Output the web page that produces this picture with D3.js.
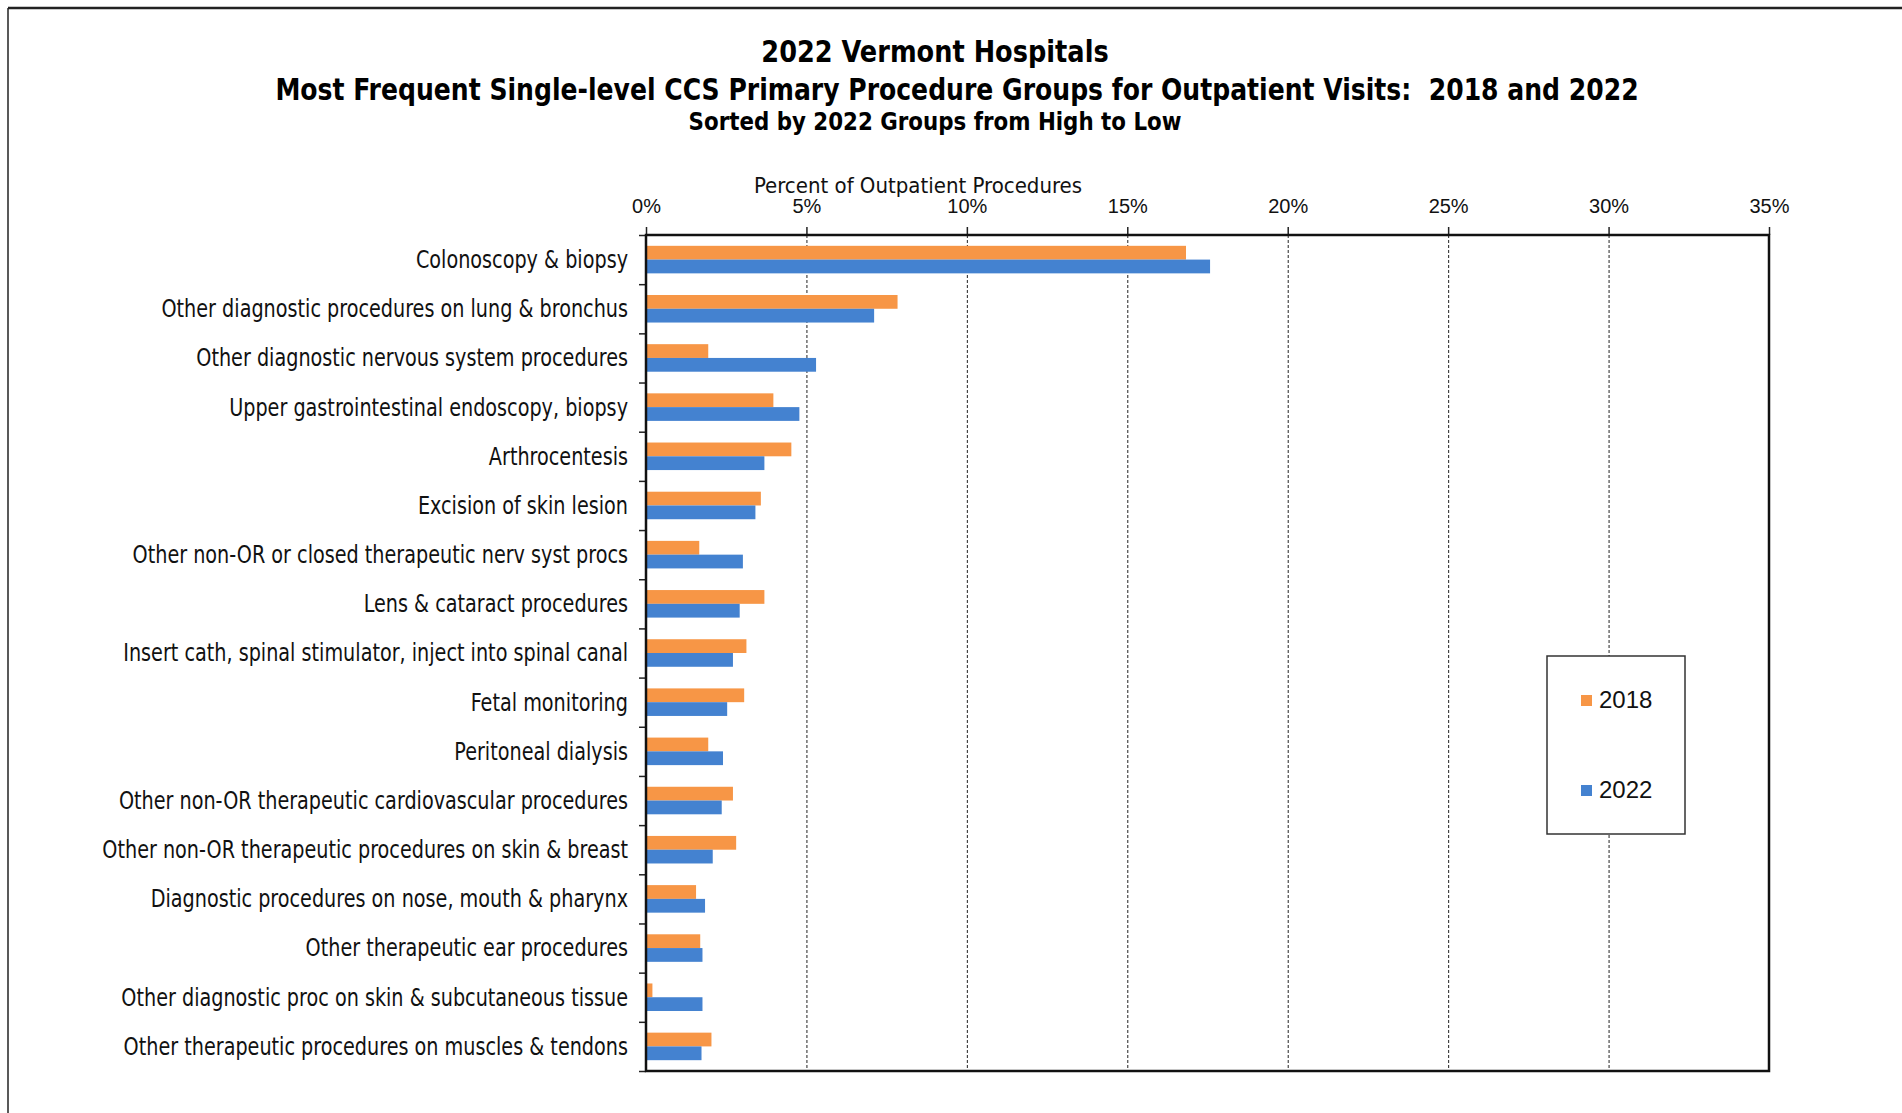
<!DOCTYPE html>
<html>
<head>
<meta charset="utf-8">
<script src="https://cdn.jsdelivr.net/npm/d3@7"></script>
<style>
  body { margin: 0; background: #fff; }
  svg { display: block; }
  .narrow { font-family: "Liberation Sans Narrow", "DejaVu Sans Condensed", "DejaVu Sans", sans-serif; white-space: pre; }
  .plain { font-family: "Liberation Sans", Arial, sans-serif; }
</style>
</head>
<body>
<div id="chart"></div>
<script>
// 1: DATA
const categories = [
    "Colonoscopy & biopsy",
    "Other diagnostic procedures on lung & bronchus",
    "Other diagnostic nervous system procedures",
    "Upper gastrointestinal endoscopy, biopsy",
    "Arthrocentesis",
    "Excision of skin lesion",
    "Other non-OR or closed therapeutic nerv syst procs",
    "Lens & cataract procedures",
    "Insert cath, spinal stimulator, inject into spinal canal",
    "Fetal monitoring",
    "Peritoneal dialysis",
    "Other non-OR therapeutic cardiovascular procedures",
    "Other non-OR therapeutic procedures on skin & breast",
    "Diagnostic procedures on nose, mouth & pharynx",
    "Other therapeutic ear procedures",
    "Other diagnostic proc on skin & subcutaneous tissue",
    "Other therapeutic procedures on muscles & tendons"
];
const values2018 = [16.83, 7.84, 1.94, 3.97, 4.53, 3.58, 1.66, 3.69, 3.13, 3.06, 1.94, 2.71, 2.81, 1.56, 1.69, 0.20, 2.04];
const values2022 = [17.58, 7.11, 5.30, 4.78, 3.69, 3.41, 3.02, 2.92, 2.71, 2.53, 2.40, 2.36, 2.08, 1.84, 1.76, 1.76, 1.73];
const seriesNames = ["2018", "2022"];
const xTicks = [0, 5, 10, 15, 20, 25, 30, 35];
const titleLines = [
    "2022 Vermont Hospitals",
    "Most Frequent Single-level CCS Primary Procedure Groups for Outpatient Visits:  2018 and 2022",
    "Sorted by 2022 Groups from High to Low"
];

// 2: LAYOUT
const W = 1902, H = 1113;
const plot = { left: 646, right: 1769, top: 235, bottom: 1071 };
const colors = { "2018": "#F79646", "2022": "#4482D0" };

const svg = d3.select("#chart").append("svg")
    .attr("width", W)
    .attr("height", H);

// outer frame (only top and left edges visible)
svg.append("line").attr("x1", 8).attr("x2", W).attr("y1", 8).attr("y2", 8)
    .attr("stroke", "#222").attr("stroke-width", 2.5);
svg.append("line").attr("x1", 8).attr("x2", 8).attr("y1", 8).attr("y2", H)
    .attr("stroke", "#222").attr("stroke-width", 1.5);

// 3: SCALES
const x = d3.scaleLinear().domain([0, 35]).range([plot.left, plot.right]);
const y = d3.scaleBand().domain(categories).range([plot.top, plot.bottom]);
const yIdx = d3.scaleLinear().domain([0, categories.length]).range([plot.top, plot.bottom]);
const barH = y.bandwidth() * 0.28;

// 4: GRIDLINES
svg.append("g")
    .attr("transform", `translate(0,${plot.top})`)
    .call(d3.axisTop(x).tickValues(xTicks.slice(1, -1)).tickSize(-(plot.bottom - plot.top)).tickFormat(""))
    .call(g => g.select(".domain").remove())
    .call(g => g.selectAll("line").attr("stroke", "#222").attr("stroke-width", 1).attr("stroke-dasharray", "3,2"));

// 5: BARS
const rows = categories.map((c, i) => ({ cat: c, v2018: values2018[i], v2022: values2022[i] }));

svg.selectAll(".bar2018")
    .data(rows).enter().append("rect")
    .attr("x", x(0))
    .attr("y", d => y(d.cat) + y.bandwidth() / 2 - barH)
    .attr("width", d => x(d.v2018) - x(0))
    .attr("height", barH)
    .attr("fill", colors["2018"]);

svg.selectAll(".bar2022")
    .data(rows).enter().append("rect")
    .attr("x", x(0))
    .attr("y", d => y(d.cat) + y.bandwidth() / 2)
    .attr("width", d => x(d.v2022) - x(0))
    .attr("height", barH)
    .attr("fill", colors["2022"]);

// 6: AXES
const xAxis = svg.append("g")
    .attr("transform", `translate(0,${plot.top})`)
    .call(d3.axisTop(x).tickValues(xTicks).tickSize(8).tickPadding(14).tickFormat(d => d + "%"));
xAxis.select(".domain").remove();
xAxis.selectAll("line").attr("stroke", "#222").attr("stroke-width", 1.5);
xAxis.selectAll("text").attr("class", "plain").attr("font-size", 20).attr("fill", "#111");

const yAxis = svg.append("g")
    .attr("transform", `translate(${plot.left},0)`)
    .call(d3.axisLeft(yIdx).tickValues(d3.range(categories.length + 1)).tickSize(7).tickFormat(""));
yAxis.select(".domain").remove();
yAxis.selectAll("line").attr("stroke", "#222").attr("stroke-width", 1.5);

// plot frame
svg.append("rect")
    .attr("x", plot.left).attr("y", plot.top)
    .attr("width", plot.right - plot.left).attr("height", plot.bottom - plot.top)
    .attr("fill", "none").attr("stroke", "#111").attr("stroke-width", 2.5);

// category labels (condensed horizontally to mimic the narrow face)
svg.selectAll(".cat-label")
    .data(categories).enter().append("text")
    .attr("class", "narrow")
    .attr("transform", d => `translate(628,${y(d) + y.bandwidth() / 2}) scale(0.89,1)`)
    .attr("dy", "0.35em")
    .attr("text-anchor", "end")
    .attr("font-size", 24)
    .attr("fill", "#111")
    .text(d => d);

// 7: TITLES
const titleSpec = [
    { x: 935, y: 62, size: 30, sx: 0.95 },
    { x: 957, y: 100, size: 30, sx: 0.93 },
    { x: 935, y: 130, size: 24, sx: 0.99 }
];
titleLines.forEach((t, i) => {
    const s = titleSpec[i];
    svg.append("text")
        .attr("class", "narrow")
        .attr("transform", `translate(${s.x},${s.y}) scale(${s.sx},1)`)
        .attr("text-anchor", "middle")
        .attr("font-size", s.size)
        .attr("font-weight", "bold")
        .attr("fill", "#000")
        .text(t);
});

svg.append("text")
    .attr("class", "narrow")
    .attr("x", 918)
    .attr("y", 193)
    .attr("text-anchor", "middle")
    .attr("font-size", 22)
    .attr("fill", "#111")
    .text("Percent of Outpatient Procedures");

// 8: LEGEND
const legend = svg.append("g").attr("transform", "translate(1547,656)");
legend.append("rect")
    .attr("width", 138).attr("height", 178)
    .attr("fill", "#fff").attr("stroke", "#333").attr("stroke-width", 1.5);

const items = legend.selectAll(".legend-item")
    .data(seriesNames).enter().append("g")
    .attr("transform", (d, i) => `translate(34,${39 + i * 90})`);
items.append("rect")
    .attr("width", 11).attr("height", 11)
    .attr("fill", d => colors[d]);
items.append("text")
    .attr("class", "plain")
    .attr("x", 18).attr("y", 13)
    .attr("font-size", 24)
    .attr("fill", "#111")
    .text(d => d);
</script>
</body>
</html>
